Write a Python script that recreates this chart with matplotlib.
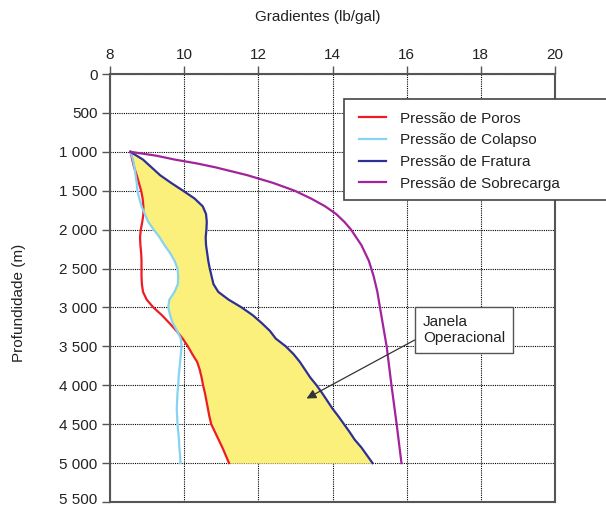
import matplotlib.pyplot as plt
from matplotlib.patches import Rectangle
from matplotlib.transforms import ScaledTranslation
import numpy as np

plt.rcParams['font.family'] = ['Liberation Sans', 'DejaVu Sans']

# depth grid (m) shared by pore, collapse and fracture curves
profundidade = [1000, 1100, 1200, 1300, 1400, 1500, 1600, 1700, 1800, 1900,
                2000, 2100, 2200, 2300, 2400, 2500, 2600, 2700, 2800, 2900,
                3000, 3100, 3200, 3300, 3400, 3500, 3600, 3700, 3800, 3900,
                4000, 4100, 4200, 4300, 4400, 4500, 4600, 4700, 4800, 4900, 5000]

poros = [8.55, 8.60, 8.65, 8.72, 8.78, 8.84, 8.88, 8.90, 8.90, 8.87,
         8.83, 8.81, 8.82, 8.84, 8.85, 8.85, 8.85, 8.86, 8.89, 8.99,
         9.17, 9.40, 9.60, 9.79, 9.96, 10.10, 10.22, 10.35, 10.42, 10.47,
         10.51, 10.56, 10.60, 10.64, 10.68, 10.73, 10.83, 10.93, 11.03, 11.12, 11.21]

colapso = [8.55, 8.62, 8.66, 8.69, 8.72, 8.74, 8.79, 8.85, 8.94, 9.03,
           9.18, 9.34, 9.47, 9.62, 9.74, 9.82, 9.84, 9.83, 9.74, 9.60,
           9.57, 9.62, 9.69, 9.81, 9.91, 9.93, 9.91, 9.89, 9.87, 9.85,
           9.84, 9.82, 9.81, 9.80, 9.81, 9.82, 9.84, 9.86, 9.87, 9.89, 9.90]

fratura = [8.55, 8.89, 9.12, 9.35, 9.65, 9.97, 10.28, 10.50, 10.59, 10.61,
           10.60, 10.58, 10.59, 10.62, 10.65, 10.69, 10.74, 10.79, 10.92, 11.20,
           11.55, 11.85, 12.09, 12.31, 12.47, 12.74, 12.95, 13.12, 13.26, 13.40,
           13.57, 13.72, 13.86, 14.00, 14.16, 14.31, 14.46, 14.60, 14.78, 14.93, 15.08]

# overburden curve has its own depths (steep start near 1000 m)
prof_sobrecarga = [1000, 1050, 1100, 1150, 1200, 1300, 1400, 1500, 1600, 1700,
                   1800, 1900, 2000, 2200, 2400, 2600, 2800, 3000, 3500, 4000, 4500, 5000]
sobrecarga = [8.55, 9.25, 9.75, 10.35, 10.85, 11.70, 12.40, 12.98, 13.42, 13.80,
              14.10, 14.32, 14.50, 14.78, 14.98, 15.11, 15.21, 15.28, 15.46, 15.59, 15.73, 15.86]

nomes = ['Pressão de Poros', 'Pressão de Colapso', 'Pressão de Fratura', 'Pressão de Sobrecarga']
cores = ['#ee1c25', '#86d3f2', '#2e3192', '#a3239c']

fs = 11

fig = plt.figure(figsize=(6.06, 5.08), dpi=100)
ax = fig.add_axes([110/606, 1 - 502/508, 445/606, 428/508])

# operational window: between max(pore, collapse) and fracture
esquerda = np.maximum(poros, colapso)
ax.fill_betweenx(profundidade, esquerda, fratura, color='#fbf07c', lw=0, zorder=1)

l1, = ax.plot(poros, profundidade, color=cores[0], lw=1.6, zorder=3)
l2, = ax.plot(colapso, profundidade, color=cores[1], lw=1.6, zorder=3)
l3, = ax.plot(fratura, profundidade, color=cores[2], lw=1.6, zorder=3)
l4, = ax.plot(sobrecarga, prof_sobrecarga, color=cores[3], lw=1.6, zorder=3)

ax.set_xlim(8, 20)
ax.set_ylim(5500, 0)
ax.set_xticks(range(8, 21, 2))
ax.set_yticks(range(0, 5501, 500))
ax.set_yticklabels(['0', '500'] + ['{:,}'.format(v).replace(',', ' ') for v in range(1000, 5501, 500)])
ax.xaxis.tick_top()
ax.tick_params(axis='both', direction='out', length=6, width=1, color='#555555',
               labelsize=fs, labelcolor='#222222', pad=3)
ax.grid(True, color='black', linestyle=(0, (1, 1)), linewidth=0.8, zorder=0)
ax.set_axisbelow(True)
for s in ax.spines.values():
    s.set_color('#555555')
    s.set_linewidth(1.5)

# nudge the last depth label up so it stays inside the figure
ultimo = ax.get_yticklabels()[-1]
ultimo.set_transform(ultimo.get_transform() + ScaledTranslation(0, 3/100, fig.dpi_scale_trans))

fig.text(318/606, 1 - 17/508, 'Gradientes (lb/gal)', ha='center', va='center',
         fontsize=fs, color='#222222')
fig.text(19/606, 1 - 303/508, 'Profundidade (m)', ha='center', va='center',
         rotation=90, fontsize=fs, color='#222222')

ax.annotate('Janela\nOperacional', xy=(13.3, 4170), xytext=(17.55, 3290),
            ha='center', va='center', multialignment='left', fontsize=fs, color='#222222',
            bbox=dict(boxstyle='square,pad=0.5', fc='white', ec='#555555', lw=1),
            arrowprops=dict(arrowstyle='-|>', color='#333333', lw=0.9,
                            mutation_scale=14, relpos=(0, 0.32), shrinkA=0, shrinkB=0),
            zorder=4)

# legend box running off the right edge
caixa = Rectangle((344/606, 1 - 200/508), 270/606, 101/508, transform=fig.transFigure,
                  fc='white', ec='#444444', lw=1.2, zorder=2)
fig.patches.append(caixa)
fig.legend([l1, l2, l3, l4], nomes, loc='upper left',
           bbox_to_anchor=(345/606, 1 - 98/508), frameon=False, fontsize=fs,
           handlelength=1.8, handletextpad=0.9, labelspacing=0.5, labelcolor='#222222')

plt.savefig('out.png', dpi=100)
